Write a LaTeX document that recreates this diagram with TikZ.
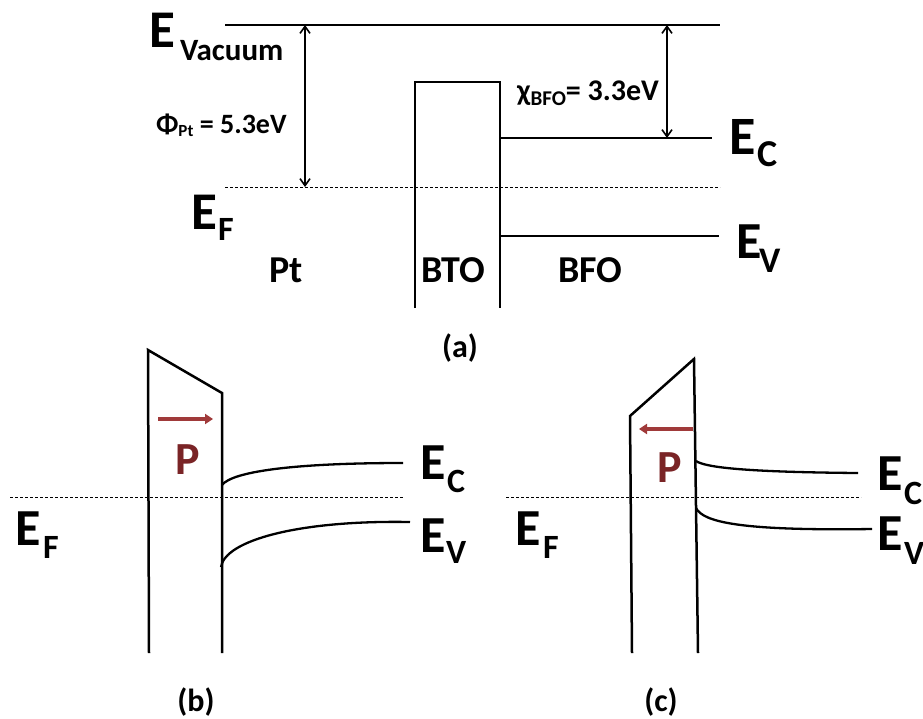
\documentclass[tikz,border=0pt]{standalone}
\usepackage{fontspec}
\setmainfont{Carlito}
\usetikzlibrary{arrows.meta}
\definecolor{arrred}{RGB}{160,58,58}
\definecolor{pred}{RGB}{122,36,38}
\newcommand{\fsz}[1]{\fontsize{#1}{#1}\selectfont}
\begin{document}
\begin{tikzpicture}[x=1pt,y=-1pt,
  lbl/.style={inner sep=0pt,outer sep=0pt,anchor=base west,font=\bfseries},
  band/.style={line width=2.5pt,line join=miter},
  level/.style={line width=2.3pt},
  vac/.style={line width=1.4pt},
  fermi/.style={line width=1pt,dash pattern=on 3pt off 2pt},
  dbl/.style={line width=1.6pt,{Straight Barb[length=7pt,width=10pt]}-{Straight Barb[length=7pt,width=10pt]}},
  pol/.style={line width=4pt,arrred,-{Triangle[length=8pt,width=10pt]}}]
\useasboundingbox (0,0) rectangle (923,718);
% ---------- panel (a) ----------
\coordinate (vacL) at (225,25);
\coordinate (vacR) at (720,25);
\coordinate (efL) at (225,187);
\coordinate (efR) at (720,187);
\draw[vac] (vacL) -- (vacR);
\draw[fermi] (efL) -- (efR);
\coordinate (btoLB) at (415,308);
\coordinate (btoLT) at (415,82);
\coordinate (btoRT) at (500,82);
\coordinate (btoRB) at (500,308);
\draw[band] (btoLB) -- (btoLT) -- (btoRT) -- (btoRB);
\coordinate (ecA0) at (500,138);
\coordinate (ecA1) at (712,138);
\coordinate (evA0) at (500,236);
\coordinate (evA1) at (719,236);
\draw[level] (ecA0) -- (ecA1);
\draw[level] (evA0) -- (evA1);
\coordinate (phiT) at (305,25);
\coordinate (phiB) at (305,187);
\draw[dbl] (phiT) -- (phiB);
\coordinate (chiT) at (667,25);
\coordinate (chiB) at (667,138);
\draw[dbl] (chiT) -- (chiB);
\node[lbl] (evacE) at (149,47) {\fsz{53}E};
\node[lbl] (evacS) at (180,60) {\fsz{31}Vacuum};
\node[lbl] (phiL) at (156,133) {\fsz{28}Φ\raisebox{-3pt}{\fsz{17}Pt} = 5.3eV};
\node[lbl] (chiL) at (517,100) {\fsz{30}χ\raisebox{-5pt}{\fsz{21}BFO}= 3.3eV};
\node[lbl] (efaE) at (191,229) {\fsz{53}E};
\node[lbl] (efaS) at (218,240) {\fsz{34}F};
\node[lbl] (ecaE) at (729,154) {\fsz{54}E};
\node[lbl] (ecaS) at (757,166) {\fsz{38}C};
\node[lbl] (evaE) at (736,258) {\fsz{52}E};
\node[lbl] (evaS) at (759,272) {\fsz{36}V};
\node[lbl] (pt) at (269,282) {\fsz{38}Pt};
\node[lbl] (bto) at (421,282) {\fsz{38}BTO};
\node[lbl] (bfo) at (558,282) {\fsz{38}BFO};
\node[inner sep=0pt,anchor=base,font=\bfseries] (capa) at (460,357) {\fsz{32}(a)};
% ---------- panel (b) ----------
\coordinate (bLB) at (149,653);
\coordinate (bLT) at (148,350);
\coordinate (bRT) at (222,393);
\coordinate (bRB) at (222,653);
\draw[band] (bLB) -- (bLT) -- (bRT) -- (bRB);
\coordinate (bef0) at (10,497);
\coordinate (bef1) at (403,497);
\draw[fermi] (bef0) -- (bef1);
\coordinate (bec0) at (222,485);
\coordinate (bec1) at (403,463);
\draw[level] (bec0) .. controls (232,472) and (290,463) .. (bec1);
\coordinate (bev0) at (221,567);
\coordinate (bev1) at (410,522);
\draw[level] (bev0) .. controls (225,540) and (300,520) .. (bev1);
\coordinate (bp0) at (158,419);
\coordinate (bp1) at (213,419);
\draw[pol] (bp0) -- (bp1);
\node[lbl,text=pred] (bP) at (175,474) {\fsz{46}P};
\node[lbl] (becE) at (420,479) {\fsz{52}E};
\node[lbl] (becS) at (447,492) {\fsz{34}C};
\node[lbl] (bevE) at (420,552) {\fsz{52}E};
\node[lbl] (bevS) at (446,563) {\fsz{34}V};
\node[lbl] (befE) at (15,545) {\fsz{52}E};
\node[lbl] (befS) at (43,558) {\fsz{34}F};
\node[inner sep=0pt,anchor=base,font=\bfseries] (capb) at (196,711) {\fsz{32}(b)};
% ---------- panel (c) ----------
\coordinate (cLB) at (632,653);
\coordinate (cLT) at (630,416);
\coordinate (cRT) at (694,359);
\coordinate (cRB) at (698,653);
\draw[band] (cLB) -- (cLT) -- (cRT) -- (cRB);
\coordinate (cef0) at (506,497);
\coordinate (cef1) at (861,497);
\draw[fermi] (cef0) -- (cef1);
\coordinate (cec0) at (696,461);
\coordinate (cec1) at (858,473);
\draw[level] (cec0) .. controls (705,467) and (740,472) .. (cec1);
\coordinate (cev0) at (696,508);
\coordinate (cev1) at (872,529);
\draw[level] (cev0) .. controls (703,522) and (740,531) .. (cev1);
\coordinate (cp0) at (693,429);
\coordinate (cp1) at (639,429);
\draw[pol] (cp0) -- (cp1);
\node[lbl,text=pred] (cP) at (657,482) {\fsz{46}P};
\node[lbl] (cecE) at (877,490) {\fsz{52}E};
\node[lbl] (cecS) at (904,504) {\fsz{34}C};
\node[lbl] (cevE) at (877,550) {\fsz{52}E};
\node[lbl] (cevS) at (904,564) {\fsz{34}V};
\node[lbl] (cefE) at (515,545) {\fsz{52}E};
\node[lbl] (cefS) at (543,558) {\fsz{34}F};
\node[inner sep=0pt,anchor=base,font=\bfseries] (capc) at (661,711) {\fsz{32}(c)};
\end{tikzpicture}
\end{document}
